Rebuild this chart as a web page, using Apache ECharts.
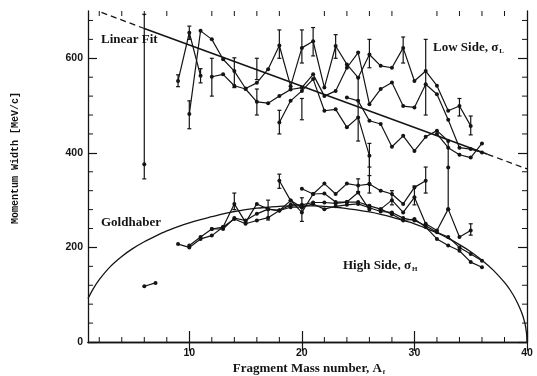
<!DOCTYPE html>
<html><head><meta charset="utf-8">
<script src="https://cdn.jsdelivr.net/npm/echarts@6/dist/echarts.min.js"></script>
<style>html,body{margin:0;padding:0;background:#fff}#c{width:537px;height:376px}</style>
</head><body><div id="c"></div>
<script>
// ---- tick values ----
const xMajorTicks = [10, 20, 30, 40];
const xMinorTicks = [2, 4, 6, 8, 12, 14, 16, 18, 22, 24, 26, 28, 32, 34, 36, 38];
const yMajorTicks = [0, 200, 400, 600];
const yMinorTicks = [40, 80, 120, 160, 240, 280, 320, 360, 440, 480, 520, 560, 640, 680];

// ---- Goldhaber curve ----
const goldhaber = [[1,92],[1.5,114],[2,132],[3,160],[4,181],[5,198],[6,212],[7,224],[8,235],[9,244],[10,252],
  [11,259],[12,265],[13,271],[14,276],[15,280],[16,283],[17,285],[18,287],[19,288],[20,288],[21,288],[22,287],
  [23,285],[24,282],[25,279],[26,275],[27,270],[28,264],[29,257],[30,250],[31,241],[32,231],[33,219],[34,206],
  [35,191],[36,173],[37,152],[38,126],[38.5,110],[39,90],[39.5,64],[39.8,41],[39.95,20],[40,0]];

// ---- linear fit ----
const fitDashLeft = [[2.2, 697], [6, 663]];
const fitSolid = [[6, 663], [36.5, 397]];
const fitDashRight = [[36.5, 397], [40, 366]];

// ---- low side series ----
const low1 = [[9,552],[10,654],[11,563]];
const low2 = [[10,482],[11,658],[12,640],[13,598],[14,573],[15,536],[16,548],[17,577],[18,627],[19,541],[20,622],[21,636],[22,538],[23,626],[24,587],[25,559],[26,608],[27,584],[28,580],[29,622],[30,552],[31,573],[32,542],[33,489],[34,499],[35,457]];
const low3 = [[12,561],[13,566],[14,542],[15,535],[16,508],[17,505],[18,520],[19,534],[20,538],[21,566],[22,520],[23,531],[24,580],[25,612],[26,503],[27,535],[28,549],[29,499],[30,496],[31,545],[32,524],[33,470],[34,411],[35,408],[36,401]];
const low4 = [[18,464],[19,510],[20,531],[21,556],[22,489],[23,492],[24,454],[25,475],[26,394],[26,334],[27,320],[28,313],[29,292],[30,327],[31,341]];
const low5 = [[24,517],[25,510],[26,468],[27,461],[28,413],[29,436],[30,404],[31,434],[32,447],[33,425],[33,369],[33,281],[34,222],[35,236]];
const low6 = [[32,440],[33,411],[34,396],[35,390],[36,420]];

// ---- high side series ----
const high1 = [[9,207],[10,200],[11,218],[12,225],[13,243],[14,260],[15,250],[16,257],[17,263],[18,278],[19,285],[20,285],[21,292],[22,281],[23,287],[24,290],[25,292],[26,284],[27,276],[28,274],[29,262],[30,257],[31,246],[32,232],[33,222],[34,200],[35,186],[36,172]];
const high2 = [[10,204],[11,222],[12,239],[13,239],[14,262],[15,257],[16,271],[17,281],[18,278],[19,290],[20,290],[21,295],[22,295],[23,293],[24,296],[25,296],[26,288],[27,281],[28,270],[29,257],[30,260],[31,243],[32,218],[33,204],[34,193],[35,169],[36,158]];
const high3 = [[12,239],[13,243],[14,292],[15,253],[16,292],[17,281],[18,278],[19,299],[20,274],[21,313],[22,335],[23,313],[24,335],[25,331],[26,334]];
const high4 = [[18,341],[19,299],[20,285]];
const high5 = [[20,324],[21,313],[22,314],[23,296],[24,296],[25,316],[26,280]];
const high6 = [[27,281],[28,300],[29,274],[30,306],[31,250],[32,236],[33,281]];
const isoHigh = [[6,376]];
const isoLow = [[6,118],[7,125]];

// ---- error bars [A, low, high] ----
const errorBars = [[6,345,693],[9,540,565],[10,451,510],[10,640,668],[11,548,578],[12,520,600],[14,538,601],
  [16,555,600],[16,480,535],[18,600,660],[18,440,490],[20,590,660],[20,470,515],[21,605,665],[23,600,650],
  [25,425,560],[26,580,640],[26,370,420],[29,590,645],[31,480,640],[34,478,515],[35,438,478],
  [14,280,315],[17,258,300],[18,325,355],[20,255,305],[25,318,345],[26,315,352],[28,290,320],[30,290,330],
  [31,315,370],[35,226,250]];

const INK = '#141414';
const chart = echarts.init(document.getElementById('c'), null, {renderer: 'canvas'});

function dataLine(d) {
  return {type: 'line', data: d, symbol: 'circle', symbolSize: 4, showSymbol: true,
    lineStyle: {color: INK, width: 1.2}, itemStyle: {color: INK}, z: 3, silent: true};
}
function plainLine(d, dashed, w) {
  return {type: 'line', data: d, symbol: 'none', smooth: false,
    lineStyle: {color: INK, width: w || 1.3, type: dashed ? [6, 4] : 'solid'}, z: 2, silent: true};
}
const tickFont = {fontFamily: 'Liberation Sans', fontWeight: 'bold', fontSize: 10.5, color: INK};

const option = {
  animation: false,
  backgroundColor: '#fff',
  grid: {left: 88, right: 10, top: 11, bottom: 34},
  xAxis: [
    {type: 'value', min: 1, max: 40, position: 'bottom',
      axisLine: {show: true, lineStyle: {color: INK, width: 1.3}},
      axisTick: {show: true, inside: true, length: 11, customValues: xMajorTicks, lineStyle: {color: INK, width: 1.2}},
      axisLabel: Object.assign({customValues: xMajorTicks, margin: 6}, tickFont),
      splitLine: {show: false}},
    {type: 'value', min: 1, max: 40, position: 'top',
      axisLine: {show: true, lineStyle: {color: INK, width: 1.3}},
      axisTick: {show: true, inside: true, length: 9, customValues: xMajorTicks, lineStyle: {color: INK, width: 1.2}},
      axisLabel: {show: false}, splitLine: {show: false}}
  ],
  yAxis: [
    {type: 'value', min: 0, max: 700, position: 'left',
      axisLine: {show: true, lineStyle: {color: INK, width: 1.3}},
      axisTick: {show: true, inside: true, length: 9, customValues: yMajorTicks, lineStyle: {color: INK, width: 1.2}},
      axisLabel: Object.assign({customValues: yMajorTicks, margin: 5}, tickFont),
      splitLine: {show: false}},
    {type: 'value', min: 0, max: 700, position: 'right',
      axisLine: {show: true, lineStyle: {color: INK, width: 1.3}},
      axisTick: {show: true, inside: true, length: 9, customValues: yMajorTicks, lineStyle: {color: INK, width: 1.2}},
      axisLabel: {show: false}, splitLine: {show: false}}
  ],
  series: [
    // minor ticks on x (bottom and top)
    {type: 'custom', data: xMinorTicks.map(v => [v, 0]), silent: true, z: 1,
      renderItem: function (params, api) {
        const b = api.coord([api.value(0), 0]);
        const t = api.coord([api.value(0), 700]);
        const st = {stroke: INK, lineWidth: 1};
        return {type: 'group', children: [
          {type: 'line', shape: {x1: b[0], y1: b[1], x2: b[0], y2: b[1] - 5}, style: st},
          {type: 'line', shape: {x1: t[0], y1: t[1], x2: t[0], y2: t[1] + 5}, style: st}
        ]};
      }},
    // minor ticks on y (left and right)
    {type: 'custom', data: yMinorTicks.map(v => [1, v]), silent: true, z: 1,
      renderItem: function (params, api) {
        const l = api.coord([1, api.value(1)]);
        const r = api.coord([40, api.value(1)]);
        const st = {stroke: INK, lineWidth: 1};
        return {type: 'group', children: [
          {type: 'line', shape: {x1: l[0], y1: l[1], x2: l[0] + 5, y2: l[1]}, style: st},
          {type: 'line', shape: {x1: r[0], y1: r[1], x2: r[0] - 5, y2: r[1]}, style: st}
        ]};
      }},
    // error bars
    {type: 'custom', data: errorBars, silent: true, z: 3,
      encode: {x: 0, y: [1, 2]},
      renderItem: function (params, api) {
        const a = api.value(0);
        const p1 = api.coord([a, api.value(1)]);
        const p2 = api.coord([a, api.value(2)]);
        const st = {stroke: INK, lineWidth: 1.2};
        return {type: 'group', children: [
          {type: 'line', shape: {x1: p1[0], y1: p1[1], x2: p2[0], y2: p2[1]}, style: st},
          {type: 'line', shape: {x1: p1[0] - 2, y1: p1[1], x2: p1[0] + 2, y2: p1[1]}, style: st},
          {type: 'line', shape: {x1: p2[0] - 2, y1: p2[1], x2: p2[0] + 2, y2: p2[1]}, style: st}
        ]};
      }},
    Object.assign(plainLine(goldhaber, false, 1.3), {smooth: 0.3}),
    plainLine(fitDashLeft, true, 1.3),
    plainLine(fitSolid, false, 1.5),
    plainLine(fitDashRight, true, 1.3),
    dataLine(low1), dataLine(low2), dataLine(low3), dataLine(low4), dataLine(low5), dataLine(low6),
    dataLine(high1), dataLine(high2), dataLine(high3), dataLine(high4), dataLine(high5), dataLine(high6),
    dataLine(isoHigh), dataLine(isoLow)
  ],
  graphic: [
    {type: 'text', x: 101, y: 40, silent: true,
      style: {text: 'Linear Fit', font: 'bold 13px "Liberation Serif"', fill: INK, textAlign: 'left', textVerticalAlign: 'middle'}},
    {type: 'text', x: 101, y: 223, silent: true,
      style: {text: 'Goldhaber', font: 'bold 13px "Liberation Serif"', fill: INK, textAlign: 'left', textVerticalAlign: 'middle'}},
    {type: 'text', x: 433, y: 48, silent: true,
      style: {text: '{a|Low Side, σ}{b|L}', fill: INK, textAlign: 'left', textVerticalAlign: 'middle',
        rich: {a: {font: 'bold 13px "Liberation Serif"', fill: INK}, b: {font: 'bold 7px "Liberation Serif"', fill: INK, padding: [6, 0, 0, 1]}}}},
    {type: 'text', x: 343, y: 266, silent: true,
      style: {text: '{a|High Side, σ}{b|H}', fill: INK, textAlign: 'left', textVerticalAlign: 'middle',
        rich: {a: {font: 'bold 13px "Liberation Serif"', fill: INK}, b: {font: 'bold 7px "Liberation Serif"', fill: INK, padding: [6, 0, 0, 1]}}}},
    {type: 'text', x: 309, y: 369, silent: true,
      style: {text: '{a|Fragment Mass number, A}{b|f}', fill: INK, textAlign: 'center', textVerticalAlign: 'middle',
        rich: {a: {font: 'bold 13px "Liberation Serif"', fill: INK}, b: {font: 'bold 7px "Liberation Serif"', fill: INK, padding: [6, 0, 0, 1]}}}},
    {type: 'text', x: 15, y: 158, rotation: Math.PI / 2, silent: true,
      style: {text: 'Momentum Width [MeV/c]', font: 'bold 10px "Liberation Mono"', fill: INK, textAlign: 'center', textVerticalAlign: 'middle'}}
  ]
};
chart.setOption(option);
</script>
</body></html>
